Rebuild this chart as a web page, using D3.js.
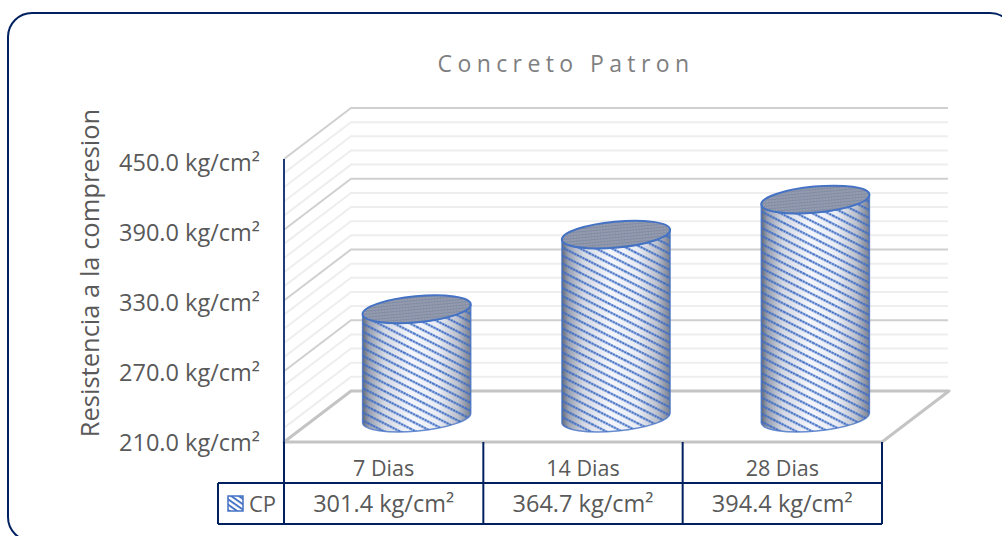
<!DOCTYPE html>
<html><head><meta charset="utf-8">
<script src="https://cdnjs.cloudflare.com/ajax/libs/d3/7.8.5/d3.min.js"></script>
<style>html,body{margin:0;padding:0;background:#fff;overflow:hidden}svg{display:block}text{font-family:"Open Sans",Lato,sans-serif;fill:#595959}</style>
</head><body><script>
const categories = ["7 Dias","14 Dias","28 Dias"];
const seriesName = "CP";
const values = [301.4,364.7,394.4];
const valueLabels = ["301.4 kg/cm²","364.7 kg/cm²","394.4 kg/cm²"];
const axisTicks = [210,270,330,390,450];
const minorStep = 12;
const chartTitle = "Concreto Patron";
const yTitle = "Resistencia a la compresion";

const W=1002,H=536;
const svg=d3.select("body").append("svg").attr("width",W).attr("height",H);
const defs=svg.append("defs");
const DX=67,DY=-51;
const y=d3.scaleLinear().domain([210,450]).range([442,159]);
const labelY=d3.scaleLinear().domain([210,450]).range([443,163]);
const x=d3.scaleBand().domain(categories).range([284,882]);

// defs
const grad=defs.append("linearGradient").attr("id","body").attr("x1",0).attr("x2",1).attr("y1",0).attr("y2",0);
[[0,"#5f6779"],[.06,"#9aa1b2"],[.2,"#d4d8e3"],[.45,"#f4f6fc"],[.7,"#e9ecf4"],[.88,"#bcc1ce"],[1,"#787f90"]]
 .forEach(d=>grad.append("stop").attr("offset",d[0]).attr("stop-color",d[1]));
const pat=defs.append("pattern").attr("id","stripes").attr("patternUnits","userSpaceOnUse")
 .attr("width",40).attr("height",7.2).attr("patternTransform","rotate(27)");
pat.append("line").attr("x1",0).attr("x2",40).attr("y1",1.2).attr("y2",1.2).attr("stroke","#3d6cc4").attr("stroke-width",2).attr("stroke-dasharray","2.5 .5");
const pt=defs.append("pattern").attr("id","topfine").attr("patternUnits","userSpaceOnUse")
 .attr("width",3).attr("height",3);
pt.append("rect").attr("width",3).attr("height",3).attr("fill","#979dae");
pt.append("rect").attr("width",3).attr("height",1).attr("fill","#7f899f");
pt.append("rect").attr("width",1).attr("height",3).attr("fill","#8692ab");
const leg=defs.append("pattern").attr("id","leg").attr("patternUnits","userSpaceOnUse")
 .attr("width",20).attr("height",4.4).attr("patternTransform","rotate(35)");
leg.append("rect").attr("width",20).attr("height",4.4).attr("fill","#fff");
leg.append("rect").attr("width",20).attr("height",1.9).attr("fill","#4472c4");
defs.append("filter").attr("id","soft").append("feGaussianBlur").attr("stdDeviation",0.3);

// frame
svg.append("rect").attr("x",8).attr("y",13).attr("width",1006).attr("height",528).attr("rx",24)
 .attr("fill","#fff").attr("stroke","#002060").attr("stroke-width",2);

// title
svg.append("text").attr("x",566).attr("y",72).attr("text-anchor","middle")
 .attr("font-size",23).attr("letter-spacing",5.4).style("fill","#7f7f7f").text(chartTitle);
svg.append("text").attr("transform","translate(99,273) rotate(-90)").attr("text-anchor","middle")
 .attr("font-size",25.5).text(yTitle);

// gridlines
const grid=svg.append("g").attr("fill","none");
d3.range(210,450+1,minorStep).forEach(v=>{
  const major=(v-210)%60===0;
  if(v===210) return;
  const yy=y(v);
  grid.append("path").attr("d",`M${284},${yy}L${284+DX},${yy+DY}L${948},${yy+DY}`)
   .attr("stroke",major?"#d0d0d0":"#eeeeee").attr("stroke-width",2);
});
// floor
svg.append("path").attr("d",`M${284},${y(210)}L${882},${y(210)}L${882+DX},${y(210)+DY}L${284+DX},${y(210)+DY}Z`)
 .attr("fill","#fff").attr("stroke","#c4c4c4").attr("stroke-width",3).attr("stroke-linejoin","round");
// y axis
svg.append("line").attr("x1",284).attr("x2",284).attr("y1",y(450)).attr("y2",y(210)+1).attr("stroke","#1f3a7a").attr("stroke-width",2);
// ticks
svg.append("g").selectAll("text").data(axisTicks).join("text")
 .attr("x",260).attr("y",d=>labelY(d)).attr("dy","0.35em").attr("text-anchor","end").attr("font-size",23.5)
 .text(d=>d.toFixed(1)+" kg/cm²");

// cylinders
const rx=54.3,ry=13,rot=-5.3,rad=rot*Math.PI/180;
const ex=rx*Math.cos(rad),ey=rx*Math.sin(rad);
categories.forEach((c,i)=>{
  const cx=x(c)+x.bandwidth()/2+DX/2-0.5;
  const y0=y(210)+DY/2+1.5, y1=y(values[i])+DY/2+0.5;
  const body=`M${cx-ex},${y1-ey}L${cx-ex},${y0-ey}A${rx},${ry} ${rot} 0 0 ${cx+ex},${y0+ey}L${cx+ex},${y1+ey}A${rx},${ry} ${rot} 0 1 ${cx-ex},${y1-ey}Z`;
  const g=svg.append("g");
  g.append("path").attr("d",body).attr("fill","url(#body)");
  g.append("path").attr("d",body).attr("fill","url(#stripes)").attr("filter","url(#soft)");
  g.append("path").attr("d",body).attr("fill","none").attr("stroke","#4472c4").attr("stroke-width",1.5).attr("stroke-opacity",.8);
  g.append("ellipse").attr("cx",cx).attr("cy",y1).attr("rx",rx).attr("ry",ry)
   .attr("transform",`rotate(${rot} ${cx} ${y1})`).attr("fill","url(#topfine)").attr("stroke","#4472c4").attr("stroke-width",2);
});

// data table
const tb=svg.append("g").attr("stroke","#002060").attr("stroke-width",2).attr("fill","none");
const tTop=483,tBot=524,tLeft=218;
tb.append("line").attr("x1",tLeft).attr("x2",882).attr("y1",tTop).attr("y2",tTop);
tb.append("line").attr("x1",tLeft).attr("x2",882).attr("y1",tBot).attr("y2",tBot);
tb.append("line").attr("x1",tLeft).attr("x2",tLeft).attr("y1",tTop).attr("y2",tBot);
tb.selectAll("line.v").data(x.domain().map(d=>x(d)).concat([882])).join("line").attr("class","v")
 .attr("x1",d=>d).attr("x2",d=>d).attr("y1",y(210)).attr("y2",tBot);
svg.append("g").selectAll("text").data(categories).join("text")
 .attr("x",d=>x(d)+x.bandwidth()/2).attr("y",476).attr("text-anchor","middle").attr("font-size",21.5).text(d=>d);
svg.append("g").selectAll("text").data(valueLabels).join("text")
 .attr("x",(d,i)=>x(categories[i])+x.bandwidth()/2).attr("y",512).attr("text-anchor","middle").attr("font-size",23.5).text(d=>d);
svg.append("rect").attr("x",228).attr("y",496).attr("width",15).attr("height",15).attr("fill","url(#leg)").attr("stroke","#4472c4").attr("stroke-width",1.5);
svg.append("text").attr("x",249).attr("y",512).attr("font-size",22).text(seriesName);
</script></body></html>
